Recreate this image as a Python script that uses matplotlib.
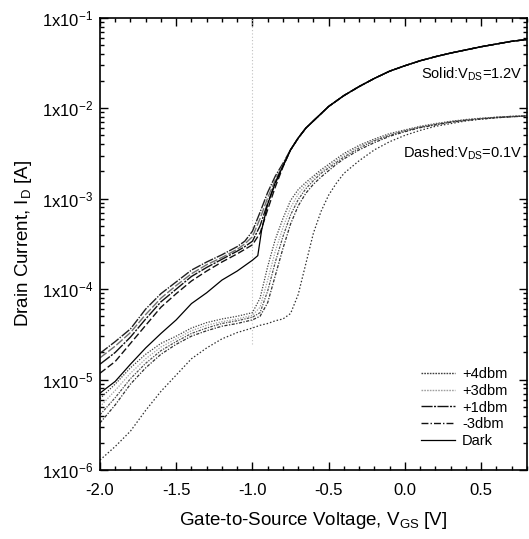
import numpy as np
import matplotlib
matplotlib.use('Agg')
import matplotlib.pyplot as plt
from matplotlib.ticker import LogLocator, FuncFormatter, MultipleLocator, NullFormatter

plt.rcParams['font.family'] = ['Liberation Sans', 'DejaVu Sans']
plt.rcParams['mathtext.fontset'] = 'custom'
plt.rcParams['mathtext.rm'] = 'Liberation Sans'
plt.rcParams['mathtext.it'] = 'Liberation Sans:italic'
plt.rcParams['mathtext.bf'] = 'Liberation Sans:bold'

# gate voltage grids [V]
vgs_sub = [-2.0, -1.9, -1.8, -1.7, -1.6, -1.5, -1.4, -1.3, -1.2, -1.1, -1.05, -1.0, -0.95, -0.9, -0.85, -0.8]
vgs_on = [-0.75, -0.7, -0.65, -0.6, -0.5, -0.4, -0.3, -0.2, -0.1, 0.0, 0.1, 0.2, 0.3, 0.4, 0.5, 0.6, 0.7, 0.8]
vgs_dark_hi = [-2.0, -1.9, -1.8, -1.7, -1.6, -1.5, -1.4, -1.3, -1.2, -1.1, -1.0, -0.965, -0.94, -0.9, -0.85, -0.8]
vgs_lo = [-2.0, -1.9, -1.8, -1.7, -1.6, -1.5, -1.4, -1.3, -1.2, -1.1, -1.0, -0.95, -0.9, -0.85, -0.8, -0.75,
          -0.7, -0.65, -0.6, -0.55, -0.5, -0.45, -0.4, -0.3, -0.2, -0.1, 0.0, 0.1, 0.2, 0.3, 0.4, 0.5, 0.6, 0.7, 0.8]

# log10(I_D) at V_DS = 1.2 V, above -0.8 V all curves share one branch
log_on_hi = [-2.46, -2.33, -2.22, -2.14, -1.98, -1.86, -1.76, -1.67, -1.59, -1.53, -1.475, -1.43, -1.39,
             -1.355, -1.32, -1.29, -1.26, -1.24]
log_p4_hi = [-4.71, -4.58, -4.44, -4.22, -4.05, -3.92, -3.79, -3.70, -3.62, -3.53, -3.47, -3.36, -3.15, -2.93, -2.75, -2.61]
log_p3_hi = [-4.76, -4.63, -4.48, -4.28, -4.10, -3.96, -3.83, -3.73, -3.65, -3.56, -3.50, -3.42, -3.22, -2.99, -2.79, -2.63]
log_p1_hi = [-4.83, -4.70, -4.53, -4.33, -4.14, -4.00, -3.86, -3.76, -3.67, -3.58, -3.53, -3.47, -3.30, -3.05, -2.83, -2.64]
log_m3_hi = [-4.93, -4.80, -4.60, -4.40, -4.20, -4.05, -3.91, -3.80, -3.70, -3.61, -3.56, -3.51, -3.38, -3.12, -2.87, -2.65]
log_dark_hi = [-5.15, -5.02, -4.83, -4.65, -4.49, -4.34, -4.16, -4.04, -3.90, -3.80, -3.68, -3.63, -3.35, -3.06, -2.82, -2.64]

# log10(I_D) at V_DS = 0.1 V
log_p4_lo = [-5.21, -5.05, -4.87, -4.72, -4.60, -4.52, -4.43, -4.37, -4.33, -4.30, -4.26, -4.10, -3.75, -3.45, -3.22,
             -3.02, -2.90, -2.82, -2.75, -2.68, -2.62, -2.56, -2.50, -2.41, -2.34, -2.28, -2.24, -2.20, -2.17,
             -2.145, -2.125, -2.11, -2.10, -2.09, -2.085]
log_p3_lo = [-5.30, -5.12, -4.93, -4.77, -4.64, -4.55, -4.46, -4.40, -4.36, -4.33, -4.29, -4.20, -3.90, -3.58, -3.32,
             -3.10, -2.95, -2.85, -2.77, -2.70, -2.64, -2.58, -2.52, -2.42, -2.35, -2.29, -2.245, -2.205, -2.175,
             -2.15, -2.13, -2.115, -2.10, -2.09, -2.085]
log_p1_lo = [-5.39, -5.20, -4.99, -4.82, -4.68, -4.58, -4.49, -4.43, -4.38, -4.35, -4.31, -4.26, -4.02, -3.70, -3.42,
             -3.18, -3.01, -2.89, -2.80, -2.72, -2.66, -2.60, -2.54, -2.44, -2.36, -2.30, -2.25, -2.21, -2.18,
             -2.15, -2.13, -2.115, -2.10, -2.09, -2.085]
log_m3_lo = [-5.48, -5.28, -5.05, -4.87, -4.72, -4.61, -4.52, -4.46, -4.41, -4.38, -4.34, -4.30, -4.15, -3.85, -3.55,
             -3.28, -3.08, -2.94, -2.84, -2.76, -2.69, -2.62, -2.56, -2.46, -2.38, -2.31, -2.26, -2.215, -2.185,
             -2.155, -2.135, -2.12, -2.105, -2.095, -2.085]
log_dark_lo = [-5.89, -5.74, -5.57, -5.34, -5.13, -4.95, -4.77, -4.65, -4.55, -4.48, -4.43, -4.40, -4.38, -4.35, -4.33,
               -4.27, -4.06, -3.72, -3.38, -3.14, -2.96, -2.83, -2.72, -2.58, -2.46, -2.37, -2.30, -2.245, -2.20,
               -2.17, -2.14, -2.12, -2.105, -2.095, -2.085]

labels = ['+4dbm', '+3dbm', '+1dbm', '-3dbm', 'Dark']

# faint marker line at V_GS = -1.0 V
marker_v = -1.0
marker_lo, marker_hi = 2.5e-5, 1e-1

fig = plt.figure(figsize=(5.29, 5.39), dpi=100)
ax = fig.add_axes([0.189, 0.128, 0.807, 0.839])

ax.vlines(marker_v, marker_lo, marker_hi, colors='#c0c0c0', linestyles=(0, (1, 2)), lw=0.8)

# V_DS = 1.2 V: long dashes
hi_styles = [
    dict(color='#202020', ls=(0, (7, 1, 1, 1)), lw=1.0),
    dict(color='#707070', ls=(0, (6, 1.5)), lw=1.0),
    dict(color='#111111', ls=(0, (9, 1, 1.5, 1)), lw=1.0),
    dict(color='#111111', ls=(0, (5, 2)), lw=1.0),
    dict(color='black', ls='-', lw=0.9),
]
# V_DS = 0.1 V: dotted
lo_styles = [
    dict(color='#404040', ls=(0, (1, 1.2)), lw=0.9),
    dict(color='#a0a0a0', ls=(0, (1, 1.2)), lw=0.9),
    dict(color='#505050', ls=(0, (2, 1, 1, 1)), lw=0.9),
    dict(color='#303030', ls=(0, (2.5, 1.2, 1, 1.2)), lw=0.9),
    dict(color='#303030', ls=(0, (1.2, 1.6)), lw=0.9),
]
# legend samples
key_styles = [
    dict(color='#404040', ls=(0, (1.2, 0.8)), lw=1.0),
    dict(color='#a0a0a0', ls=(0, (1.2, 0.8)), lw=1.0),
    dict(color='#111111', ls=(0, (8, 1, 1.5, 1)), lw=1.0),
    dict(color='#111111', ls=(0, (5, 1.5, 1, 1.5)), lw=1.0),
    dict(color='black', ls='-', lw=0.9),
]

hi_sets = [log_p4_hi, log_p3_hi, log_p1_hi, log_m3_hi]
for logs, st in zip(hi_sets, hi_styles[:4]):
    ax.plot(vgs_sub + vgs_on, 10 ** np.array(logs + log_on_hi), **st)
ax.plot(vgs_dark_hi + vgs_on, 10 ** np.array(log_dark_hi + log_on_hi), **hi_styles[4])

lo_sets = [log_p4_lo, log_p3_lo, log_p1_lo, log_m3_lo, log_dark_lo]
for logs, st in zip(lo_sets, lo_styles):
    ax.plot(vgs_lo, 10 ** np.array(logs), **st)

handles = [plt.Line2D([], [], **st) for st in key_styles]
ax.legend(handles, labels, loc='lower right', bbox_to_anchor=(0.985, 0.02), frameon=False,
          fontsize=10.5, handlelength=2.3, handletextpad=0.5, labelspacing=0.18)

ax.set_yscale('log')
ax.set_xlim(-2.0, 0.8)
ax.set_ylim(1e-6, 1e-1)

ax.yaxis.set_major_locator(LogLocator(base=10, numticks=10))
ax.yaxis.set_minor_locator(LogLocator(base=10, subs=np.arange(2, 10), numticks=20))
ax.yaxis.set_major_formatter(FuncFormatter(lambda v, p: r'1x10$^{%d}$' % round(np.log10(v))))
ax.yaxis.set_minor_formatter(NullFormatter())
ax.xaxis.set_major_locator(MultipleLocator(0.5))
ax.xaxis.set_minor_locator(MultipleLocator(0.1))
ax.xaxis.set_major_formatter(FuncFormatter(lambda v, p: '%.1f' % v))

ax.tick_params(which='both', direction='in', top=True, right=True, labelsize=12, width=1.0)
ax.tick_params(which='major', length=6)
ax.tick_params(which='minor', length=3)
ax.tick_params(axis='x', which='major', pad=9)
ax.tick_params(axis='y', which='major', pad=5)
for sp in ax.spines.values():
    sp.set_linewidth(1.2)

ax.set_xlabel(r'Gate-to-Source Voltage, V$_{\mathrm{GS}}$ [V]', fontsize=13.5, labelpad=9)
ax.set_ylabel(r'Drain Current, I$_{\mathrm{D}}$ [A]', fontsize=13.5, labelpad=6)

ax.text(0.77, 10 ** -1.63, r'Solid:V$_{\mathrm{DS}}$=1.2V', ha='right', va='center', fontsize=10.5)
ax.text(0.77, 10 ** -2.5, r'Dashed:V$_{\mathrm{DS}}$=0.1V', ha='right', va='center', fontsize=10.5)

fig.savefig('out.png', dpi=100)
